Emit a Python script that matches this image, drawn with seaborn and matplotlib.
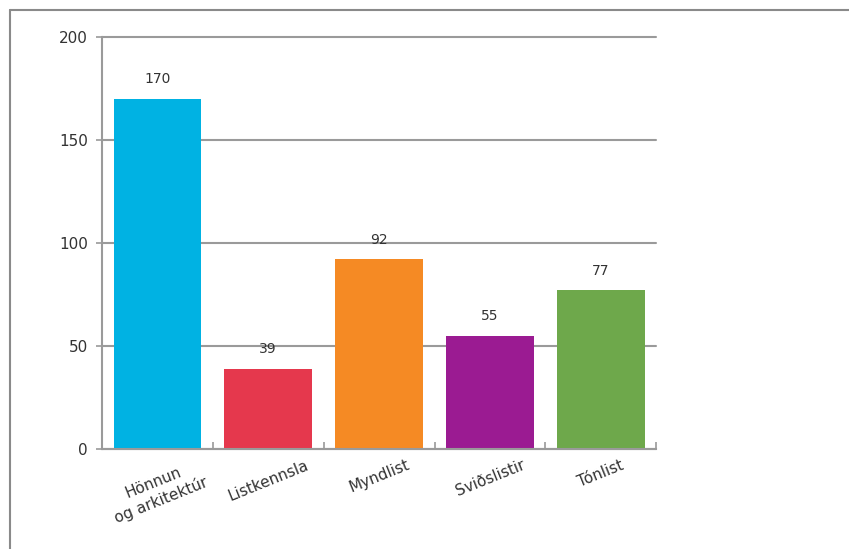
import matplotlib
matplotlib.use("Agg")
import matplotlib.pyplot as plt
import seaborn as sns
import pandas as pd
from matplotlib.lines import Line2D

# gögn
categories = ["Hönnun\nog arkitektúr", "Listkennsla", "Myndlist", "Sviðslistir", "Tónlist"]
values = [170, 39, 92, 55, 77]
colors = ["#00B2E3", "#E5384D", "#F58A24", "#9B1B92", "#6EA84B"]
y_ticks = [0, 50, 100, 150, 200]

sns.set_theme(style="white")
plt.rcParams['font.family'] = ['DejaVu Sans']

df = pd.DataFrame({"flokkur": categories, "fjoldi": values})

fig = plt.figure(figsize=(8.49, 5.49), dpi=100)
ax = fig.add_axes([0.120, 0.182, 0.653, 0.751])

sns.barplot(data=df, x="flokkur", y="fjoldi", hue="flokkur", palette=colors,
            legend=False, width=0.79, saturation=1, linewidth=0, ax=ax, zorder=2)

# gildi ofan á súlum
for i, v in enumerate(values):
    ax.annotate(str(v), (i, v), xytext=(0, 9), textcoords="offset points",
                ha="center", va="bottom", fontsize=10, color="#333333")

ax.set_xlim(-0.5, 4.5)
ax.set_ylim(0, 200)
ax.set_yticks(y_ticks)
ax.set_xlabel("")
ax.set_ylabel("")

grid_col = "#9a9a9a"
ax.yaxis.grid(True, color=grid_col, linewidth=1.5, zorder=0)
ax.set_axisbelow(True)
for gl in ax.get_ygridlines():
    gl.set_clip_on(False)

for s in ["top", "right"]:
    ax.spines[s].set_visible(False)
for s in ["left", "bottom"]:
    ax.spines[s].set_color(grid_col)
    ax.spines[s].set_linewidth(1.5)

ax.tick_params(axis="y", left=True, direction="out", length=4, width=1.2,
               color=grid_col, labelsize=11, labelcolor="#333333", pad=6)
ax.tick_params(axis="x", which="major", length=0, labelsize=11,
               labelcolor="#333333", pad=6)
ax.set_xticks([0.5, 1.5, 2.5, 3.5, 4.5], minor=True)
ax.tick_params(axis="x", which="minor", bottom=True, direction="in",
               length=5, width=1.2, color=grid_col)

for lab in ax.get_xticklabels():
    lab.set_rotation(22)
    lab.set_ha("center")
    lab.set_multialignment("center")

# rammi
fig.add_artist(Line2D([0.012, 1.0], [0.982, 0.982], color="#8a8a8a", linewidth=1.5))
fig.add_artist(Line2D([0.012, 0.012], [0.0, 0.982], color="#8a8a8a", linewidth=1.5))

fig.savefig("out.png", dpi=100)
